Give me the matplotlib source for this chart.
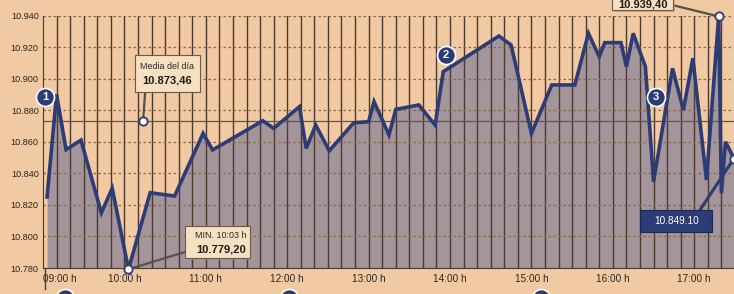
import matplotlib
matplotlib.use("Agg")
import matplotlib.pyplot as plt
from matplotlib.patches import Rectangle

# minutes after 09:00 and index level
minutes = [3, 10, 17, 28, 43, 51, 63, 79, 97, 118, 125, 162, 170, 189, 194,
           201, 211, 229, 240, 244, 255, 260, 277, 289, 295, 336, 345, 360,
           375, 392, 402, 410, 414, 426, 430, 435, 444, 450, 464, 472, 479,
           489, 498, 500, 503, 508, 509]
values = [10825.0, 10890.0, 10855.0, 10861.0, 10815.0, 10830.5, 10779.2,
          10827.7, 10825.6, 10865.3, 10854.8, 10873.3, 10868.5, 10882.2,
          10855.8, 10870.6, 10854.3, 10872.0, 10872.7, 10885.4, 10864.3,
          10880.5, 10883.3, 10870.6, 10904.4, 10927.0, 10921.3, 10865.3,
          10896.0, 10896.0, 10928.7, 10913.9, 10922.8, 10922.8, 10907.6,
          10928.7, 10907.6, 10834.7, 10906.5, 10880.1, 10912.9, 10835.8,
          10939.4, 10827.3, 10860.0, 10851.6, 10849.1]

mean_value = 10873.46
min_time, min_value = 63, 10779.2
max_time, max_value = 498, 10939.4
last_time, last_value = 509, 10849.1

y_ticks = [10780, 10800, 10820, 10840, 10860, 10880, 10900, 10920, 10940]
y_labels = ["10.780", "10.800", "10.820", "10.840", "10.860", "10.880",
            "10.900", "10.920", "10.940"]
x_ticks = [0, 60, 120, 180, 240, 300, 360, 420, 480]
x_labels = ["09:00 h", "10:00 h", "11:00 h", "12:00 h", "13:00 h",
            "14:00 h", "15:00 h", "16:00 h", "17:00 h"]

plt.rcParams["font.family"] = ["Liberation Sans", "DejaVu Sans"]

paper = "#f1c9a2"
navy = "#2d3c74"
grid_dark = "#4a3a32"
fill_col = "#a3959a"
ink = "#2a2522"
box_fc = "#f6e0c2"
box_ec = "#6a5a4a"

fig = plt.figure(figsize=(7.34, 2.94), dpi=100, facecolor=paper)
ax = fig.add_axes([43 / 734, 26 / 294, 691 / 734, 252.5 / 294])
ax.set_facecolor(paper)

ax.set_xlim(1.8, 509.3)
ax.set_ylim(10780, 10940)

ax.fill_between(minutes, values, 10780, color=fill_col, zorder=1, lw=0)

for m in range(10, 510, 10):
    ax.axvline(m, color=grid_dark, lw=1.0, zorder=2)
for v in y_ticks[1:]:
    ax.axhline(v, color="#8a6648", lw=0.9, ls=(0, (2, 2)), zorder=2)
ax.axhline(mean_value, color="#55566a", lw=0.9, zorder=2)

ax.plot(minutes, values, color=navy, lw=2.6, solid_joinstyle="miter", zorder=4)

for s in ["top", "right"]:
    ax.spines[s].set_visible(False)
ax.spines["left"].set_color(grid_dark)
ax.spines["bottom"].set_color(grid_dark)
ax.plot([1.8, 1.8], [0, -0.085], transform=ax.get_xaxis_transform(),
        color=grid_dark, lw=1.0, clip_on=False)

ax.set_yticks(y_ticks)
ax.set_yticklabels(y_labels, fontsize=6.6, color=ink)
ax.set_xticks(x_ticks)
ax.set_xticklabels(x_labels, fontsize=7.2, color=ink)
ax.get_xticklabels()[0].set_ha("left")
ax.tick_params(length=0, axis="y", pad=3)
ax.tick_params(length=0, axis="x", pad=4)

# callout markers
pt = dict(marker="o", ms=6, mfc="white", mec=navy, mew=1.3, zorder=6, clip_on=False)
for px, py in [(73.8, mean_value), (min_time, min_value),
               (max_time, max_value), (last_time, last_value)]:
    ax.plot([px], [py], **pt)

line_kw = dict(color="#55504a", lw=1.6, zorder=5, clip_on=False)


def box(x0, x1, y0, y1, fc=box_fc, ec=box_ec):
    ax.add_patch(Rectangle((x0 + 1.2, y0 - 1.0), x1 - x0, y1 - y0, fc="#b89878",
                           ec="none", alpha=0.6, zorder=5.5, clip_on=False))
    ax.add_patch(Rectangle((x0, y0), x1 - x0, y1 - y0, fc=fc, ec=ec, lw=0.8,
                           zorder=6, clip_on=False))


# media del día
ax.plot([75.3, 73.8], [10891.6, mean_value], **line_kw)
box(68, 115.5, 10891.6, 10915)
ax.text(91.7, 10907.6, "Media del día", ha="center", va="center",
        fontsize=6.4, color=ink, zorder=7)
ax.text(91.7, 10898.6, "10.873,46", ha="center", va="center", fontsize=8,
        fontweight="bold", color="#1e1a18", zorder=7)

# mínimo
ax.plot([106, min_time], [10790.5, min_value], **line_kw)
box(104.7, 152.4, 10786.3, 10806.6)
ax.text(149.8, 10800.6, "MIN. 10:03 h", ha="right", va="center",
        fontsize=6.4, color=ink, zorder=7)
ax.text(149.8, 10791.8, "10.779,20", ha="right", va="center", fontsize=8,
        fontweight="bold", color="#1e1a18", zorder=7)

# máximo
ax.plot([464.5, max_time], [10946.5, max_value], **line_kw)
box(419.7, 464.5, 10943.2, 10960)
ax.text(442.1, 10946.9, "10.939,40", ha="center", va="center", fontsize=8,
        fontweight="bold", color="#1e1a18", zorder=7, clip_on=False)

# último
ax.plot([484.3, last_time], [10816.8, last_value], color=navy, lw=2.2,
        zorder=5, clip_on=False)
box(440.3, 493.2, 10802.9, 10816.8, fc=navy, ec="#1c2850")
ax.text(466.7, 10809.8, "10.849.10", ha="center", va="center", fontsize=7.2,
        color="white", zorder=7)

# numbered circles
badge = dict(marker="o", ms=13, mfc=navy, mec="white", mew=1.2, zorder=8,
             clip_on=False, ls="none")
for bx, by, label in [(1.8, 10888.4, "1"), (297, 10915, "2"), (452, 10888.4, "3")]:
    ax.plot([bx], [by], **badge)
    ax.text(bx, by, label, ha="center", va="center", fontsize=8,
            fontweight="bold", color="white", zorder=9, clip_on=False)
for bx in [16, 181, 367]:
    ax.plot([bx], [10761], **badge)

fig.savefig("out.png", dpi=100, facecolor=paper)
